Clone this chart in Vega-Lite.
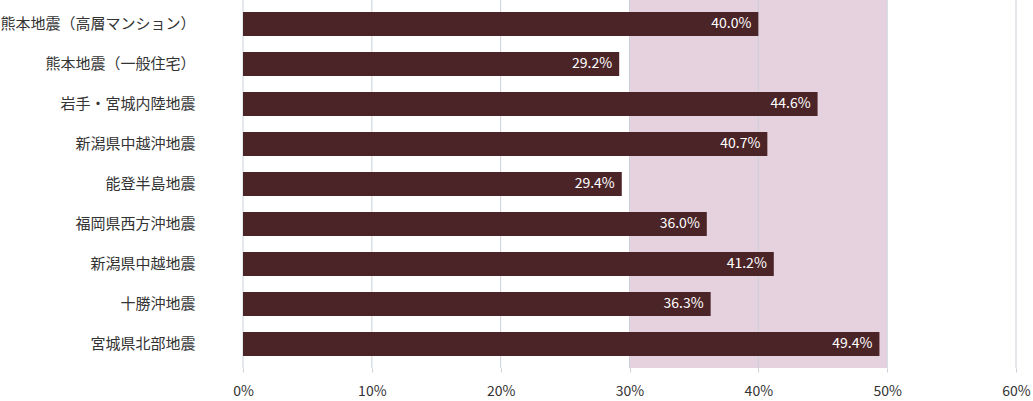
{
  "$schema": "https://vega.github.io/schema/vega-lite/v6.json",
  "width": 773,
  "height": 368,
  "autosize": {"type": "none"},
  "padding": {"left": 243, "top": 0, "right": 17, "bottom": 33},
  "background": "white",
  "config": {"view": {"stroke": null}, "font": "Noto Sans CJK JP"},
  "datasets": {
    "bars": [
      {"name": "熊本地震（高層マンション）", "value": 40.0, "label": "40.0%"},
      {"name": "熊本地震（一般住宅）", "value": 29.2, "label": "29.2%"},
      {"name": "岩手・宮城内陸地震", "value": 44.6, "label": "44.6%"},
      {"name": "新潟県中越沖地震", "value": 40.7, "label": "40.7%"},
      {"name": "能登半島地震", "value": 29.4, "label": "29.4%"},
      {"name": "福岡県西方沖地震", "value": 36.0, "label": "36.0%"},
      {"name": "新潟県中越地震", "value": 41.2, "label": "41.2%"},
      {"name": "十勝沖地震", "value": 36.3, "label": "36.3%"},
      {"name": "宮城県北部地震", "value": 49.4, "label": "49.4%"}
    ],
    "band": [{"from": 30, "to": 50}],
    "grid": [{"g": 0}, {"g": 10}, {"g": 20}, {"g": 30}, {"g": 40}, {"g": 50}, {"g": 60}]
  },
  "layer": [
    {
      "data": {"name": "band"},
      "mark": {"type": "rect", "color": "#e6d2de"},
      "encoding": {
        "x": {"field": "from", "type": "quantitative", "scale": {"domain": [0, 60]}},
        "x2": {"field": "to"}
      }
    },
    {
      "data": {"name": "grid"},
      "mark": {"type": "rule", "color": "#c9d1d9", "strokeWidth": 1},
      "encoding": {
        "x": {"field": "g", "type": "quantitative"}
      }
    },
    {
      "data": {"name": "bars"},
      "mark": {"type": "bar", "color": "#4b2428"},
      "encoding": {
        "y": {
          "field": "name", "type": "nominal", "sort": null,
          "scale": {"paddingInner": 0.4, "paddingOuter": 0.3},
          "axis": {"title": null, "domain": false, "ticks": false, "labelPadding": 48, "labelLimit": 400, "labelFontSize": 15, "labelColor": "#333333", "labelFont": "Noto Sans CJK JP"}
        },
        "x": {
          "field": "value", "type": "quantitative",
          "scale": {"domain": [0, 60]},
          "axis": {"title": null, "grid": false, "domain": false, "values": [0, 10, 20, 30, 40, 50, 60], "labelOverlap": false, "labelFlush": false, "labelExpr": "datum.value + '%'", "tickColor": "#c9d1d9", "tickSize": 4, "labelPadding": 12, "labelFontSize": 14, "labelColor": "#333333", "labelFont": "Noto Sans CJK JP"}
        }
      }
    },
    {
      "data": {"name": "bars"},
      "mark": {"type": "text", "align": "right", "dx": -7, "color": "white", "fontSize": 14, "font": "Noto Sans CJK JP"},
      "encoding": {
        "y": {"field": "name", "type": "nominal", "sort": null},
        "x": {"field": "value", "type": "quantitative"},
        "text": {"field": "label", "type": "nominal"}
      }
    }
  ]
}
